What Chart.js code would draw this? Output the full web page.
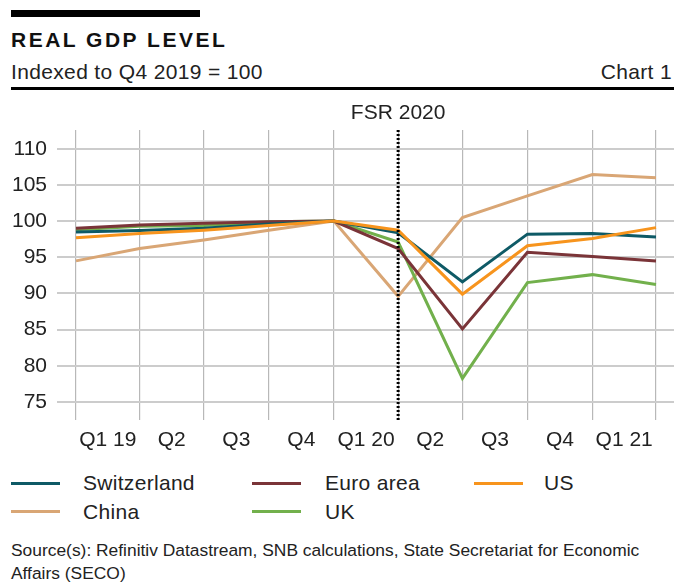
<!DOCTYPE html>
<html>
<head>
<meta charset="utf-8">
<script src="https://cdn.jsdelivr.net/npm/chart.js@4.4.1/dist/chart.umd.min.js"></script>
<style>
  body { margin: 0; width: 674px; height: 583px; position: relative; overflow: hidden; background: #fff;
         font-family: "Liberation Sans", Arial, sans-serif; color: #222; }
  .abs { position: absolute; white-space: nowrap; }
  #topbar { left: 11px; top: 10px; width: 189px; height: 7px; background: #000; }
  #title { left: 11px; top: 29px; font-size: 21px; line-height: 21px; font-weight: bold; letter-spacing: 2.5px; color: #111; }
  #subtitle { left: 11px; top: 61px; font-size: 21px; line-height: 21px; letter-spacing: 0.35px; }
  #chartno { right: 2px; top: 61px; font-size: 21px; line-height: 21px; letter-spacing: 0.35px; }
  #rule { left: 11px; right: 0; top: 87px; height: 3px; background: #000; }
  #wrap { left: 0; top: 95px; width: 674px; height: 360px; }
  .swatch { position: absolute; width: 49px; height: 3px; }
  .lgtext { position: absolute; font-size: 21px; line-height: 21px; letter-spacing: 0.3px; white-space: nowrap; }
  #source { left: 11px; top: 539px; font-size: 17.4px; line-height: 23px; }
</style>
</head>
<body>
<div class="abs" id="topbar"></div>
<div class="abs" id="title">REAL GDP LEVEL</div>
<div class="abs" id="subtitle">Indexed to Q4 2019 = 100</div>
<div class="abs" id="chartno">Chart 1</div>
<div class="abs" id="rule"></div>
<div class="abs" id="wrap"><canvas id="gdpChart" width="674" height="360"></canvas></div>
<div id="legend"></div>
<div class="abs" id="source">Source(s): Refinitiv Datastream, SNB calculations, State Secretariat for Economic<br>Affairs (SECO)</div>

<script>
// Quarter-end dates the observations are plotted at (Q4 2018 ... Q1 2021)
const quarterEnds = ['2019-01-01', '2019-04-01', '2019-07-01', '2019-10-01', '2020-01-01',
                     '2020-04-01', '2020-07-01', '2020-10-01', '2021-01-01', '2021-04-01'];
// Labels shown centred within each quarter
const quarterLabels = ['Q1 19', 'Q2', 'Q3', 'Q4', 'Q1 20', 'Q2', 'Q3', 'Q4', 'Q1 21'];
const yTicks = [75, 80, 85, 90, 95, 100, 105, 110];
const fsrDate = '2020-04-01';

// Real GDP, indexed to Q4 2019 = 100
const switzerland = [98.5, 98.7, 99.0, 99.6, 100, 98.4, 91.6, 98.2, 98.3, 97.8];
const euroArea    = [99.0, 99.45, 99.7, 99.9, 100, 96.2, 85.1, 95.7, 95.1, 94.5];
const us          = [97.7, 98.3, 98.75, 99.4, 100, 98.75, 89.9, 96.6, 97.6, 99.1];
const china       = [94.5, 96.2, 97.4, 98.75, 100, 89.6, 100.5, 103.5, 106.45, 106.0];
const uk          = [98.8, 99.3, 99.4, 99.9, 100, 97.1, 78.25, 91.5, 92.6, 91.25];

const seriesNames  = ['Switzerland', 'Euro area', 'US', 'China', 'UK'];
const seriesColors = ['#0e5a66', '#7a3438', '#f7941d', '#d9a675', '#72b04c'];
const seriesValues = [switzerland, euroArea, us, china, uk];
// drawing order: US on top, China at the bottom
const seriesOrder  = [2, 3, 1, 5, 4];

// day numbers since 1 Jan 2019, so quarters get their real lengths
function dayNum(s) {
  return (Date.parse(s) - Date.parse('2019-01-01')) / 86400000;
}
const xDays = quarterEnds.map(dayNum);
const midDays = quarterLabels.map((l, i) => (xDays[i] + xDays[i + 1]) / 2);

const datasets = seriesNames.map((name, i) => ({
  label: name,
  data: seriesValues[i].map((v, j) => ({ x: xDays[j], y: v })),
  borderColor: seriesColors[i],
  backgroundColor: seriesColors[i],
  borderWidth: 3,
  pointRadius: 0,
  tension: 0,
  order: seriesOrder[i]
}));

// dotted marker for the FSR 2020 publication, with its caption above the plot
const fsrMarker = {
  id: 'fsrMarker',
  afterDatasetsDraw(chart) {
    const ctx = chart.ctx, area = chart.chartArea;
    const x = chart.scales.x.getPixelForValue(dayNum(fsrDate));
    ctx.save();
    ctx.strokeStyle = '#000';
    ctx.lineWidth = 3;
    ctx.setLineDash([2, 2]);
    ctx.beginPath();
    ctx.moveTo(x, area.top);
    ctx.lineTo(x, area.bottom);
    ctx.stroke();
    ctx.setLineDash([]);
    ctx.fillStyle = '#222';
    ctx.font = '21px "Liberation Sans", Arial, sans-serif';
    ctx.textAlign = 'center';
    ctx.textBaseline = 'alphabetic';
    ctx.fillText('FSR 2020', x, area.top - 11);
    ctx.restore();
  }
};

const tickFont = { family: '"Liberation Sans", Arial, sans-serif', size: 21 };

new Chart(document.getElementById('gdpChart'), {
  type: 'line',
  data: { datasets: datasets },
  options: {
    responsive: false,
    animation: false,
    layout: { padding: { top: 35, right: 0, bottom: 0, left: 0 } },
    plugins: { legend: { display: false }, tooltip: { enabled: false } },
    scales: {
      x: {
        type: 'linear',
        min: -26.9,
        max: 846.5,
        afterBuildTicks: axis => { axis.ticks = xDays.map(v => ({ value: v })); },
        afterFit: axis => { axis.height = 0; },
        ticks: { display: false },
        grid: { color: '#b8b8b8', lineWidth: 1.2, drawTicks: false },
        border: { display: false }
      },
      x2: {
        type: 'linear',
        position: 'bottom',
        min: -26.9,
        max: 846.5,
        afterBuildTicks: axis => { axis.ticks = midDays.map(v => ({ value: v })); },
        afterFit: axis => { axis.height = 35; },
        ticks: {
          font: tickFont,
          color: '#222',
          padding: 8,
          maxRotation: 0,
          autoSkip: false,
          callback: (v, i) => quarterLabels[i]
        },
        grid: { display: false, drawTicks: false },
        border: { display: false }
      },
      y: {
        min: 72.5,
        max: 112.6,
        afterBuildTicks: axis => { axis.ticks = yTicks.map(v => ({ value: v })); },
        afterFit: axis => { axis.width = 57; },
        ticks: { font: tickFont, color: '#222', padding: 10 },
        grid: { color: '#cccccc', lineWidth: 2, drawTicks: false },
        border: { display: false }
      }
    }
  },
  plugins: [fsrMarker]
});

// legend in three columns, built from the same series lists
const legendCols = [{ line: 11, text: 83 }, { line: 252, text: 325 }, { line: 474, text: 544 }];
const legendRows = [{ line: 482, text: 472 }, { line: 510, text: 501 }];
const legendEl = document.getElementById('legend');
seriesNames.forEach((name, i) => {
  const col = legendCols[i % 3], row = legendRows[Math.floor(i / 3)];
  const sw = document.createElement('div');
  sw.className = 'swatch';
  sw.style.left = col.line + 'px';
  sw.style.top = row.line + 'px';
  sw.style.background = seriesColors[i];
  const tx = document.createElement('div');
  tx.className = 'lgtext';
  tx.style.left = col.text + 'px';
  tx.style.top = row.text + 'px';
  tx.textContent = name;
  legendEl.appendChild(sw);
  legendEl.appendChild(tx);
});
</script>
</body>
</html>
